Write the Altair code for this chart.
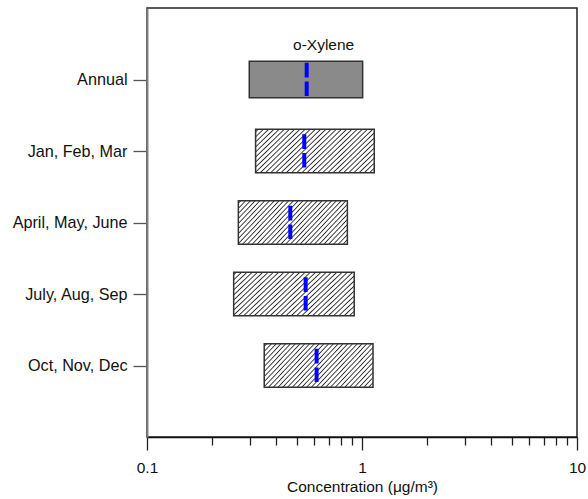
import json
import altair as alt
import pandas as pd

# ---- data ----
categories = ["Annual", "Jan, Feb, Mar", "April, May, June", "July, Aug, Sep", "Oct, Nov, Dec"]
low = [0.299, 0.320, 0.266, 0.253, 0.351]
high = [1.007, 1.14, 0.855, 0.920, 1.125]
median = [0.553, 0.539, 0.464, 0.547, 0.615]
x_major = [0.1, 1, 10]
x_minor = [0.2, 0.3, 0.4, 0.5, 0.6, 0.7, 0.8, 0.9, 2, 3, 4, 5, 6, 7, 8, 9]
compound = "o-Xylene"
x_title = "Concentration (\u03bcg/m\u00b3)"

df = pd.DataFrame({
    "cat": categories,
    "idx": list(range(len(categories))),
    "lo": low,
    "hi": high,
    "med": median,
})

FONT = "Liberation Sans"
FS = 15.5

# ---- hatch fill as a striped linear gradient ----
n_stripes = 35
P = 1.0 / n_stripes
stops = []
for i in range(n_stripes):
    b = i * P
    stops += [
        {"offset": round(b, 5), "color": "#ffffff"},
        {"offset": round(b + 0.25 * P, 5), "color": "#ffffff"},
        {"offset": round(b + 0.5 * P, 5), "color": "#2a2a2a"},
        {"offset": round(b + 0.75 * P, 5), "color": "#ffffff"},
    ]
hatch = {"gradient": "linear", "x1": 0, "y1": 0, "x2": 1.344, "y2": 0.507, "stops": stops}

decade_test = " || ".join(f"datum.value == {v}" for v in x_major)

x_axis = alt.Axis(
    values=sorted(x_major + x_minor),
    format="~g",
    labelExpr=f"({decade_test}) ? datum.label : ''",
    tickSize={"condition": {"test": decade_test, "value": 13}, "value": 8},
    tickColor="#222222",
    tickWidth=1.3,
    domainColor="#111111",
    domainWidth=1.5,
    labelFont=FONT,
    labelFontSize=FS,
    labelColor="#111111",
    labelPadding=10,
    labelFlush=False,
    labelOverlap=False,
    title=x_title,
    titleFont=FONT,
    titleFontSize=FS,
    titleFontWeight="normal",
    titleColor="#111111",
    titlePadding=4,
    grid=False,
)

y_axis = alt.Axis(
    values=list(range(len(categories))),
    labelExpr=f"{json.dumps(categories)}[datum.value]",
    tickSize=14,
    tickColor="#555555",
    tickWidth=1.3,
    domainColor="#808080",
    domainWidth=2,
    labelFont=FONT,
    labelFontSize=16.2,
    labelColor="#111111",
    labelPadding=6,
    title="",
    grid=False,
)

x_scale = alt.Scale(type="log", domain=[0.1, 10])
y_scale = alt.Scale(domain=[-1, len(categories)], reverse=True, nice=False, zero=False)

base = alt.Chart(df)

hatched = base.transform_filter("datum.idx > 0").transform_calculate(
    y0="datum.idx - 0.303", y1="datum.idx + 0.303"
).mark_rect(fill=hatch, stroke="#333333", strokeWidth=1.5).encode(
    x=alt.X("lo:Q", scale=x_scale, axis=x_axis),
    x2="hi:Q",
    y=alt.Y("y0:Q", scale=y_scale, axis=y_axis),
    y2="y1:Q",
)

annual = base.transform_filter("datum.idx == 0").transform_calculate(
    y0="datum.idx - 0.256", y1="datum.idx + 0.256"
).mark_rect(fill="#8a8a8a", stroke="#333333", strokeWidth=1.5).encode(
    x=alt.X("lo:Q", scale=x_scale, axis=x_axis),
    x2="hi:Q",
    y=alt.Y("y0:Q", scale=y_scale, axis=y_axis),
    y2="y1:Q",
)

medians = base.transform_calculate(
    r0="datum.idx - 0.233", r1="datum.idx + 0.233"
).mark_rule(color="#0000ff", strokeWidth=4, strokeDash=[14.6, 4], strokeCap="butt").encode(
    x=alt.X("med:Q", scale=x_scale, axis=x_axis),
    y=alt.Y("r0:Q", scale=y_scale, axis=y_axis),
    y2="r1:Q",
)

label = alt.Chart(pd.DataFrame({"t": [compound]})).mark_text(
    font=FONT, fontSize=FS, color="#111111", baseline="middle", align="center"
).encode(
    text="t:N",
    x=alt.datum(0.663, type="quantitative", scale=x_scale, axis=x_axis),
    y=alt.datum(-0.48, type="quantitative", scale=y_scale, axis=y_axis),
)

chart = alt.layer(annual, hatched, medians, label).properties(
    width=430,
    height=429,
    autosize=alt.AutoSizeParams(type="none"),
    padding={"left": 147, "top": 8, "right": 11, "bottom": 62},
    background="#ffffff",
).configure_view(
    stroke="#222222", strokeWidth=1.5
)

chart.save("out.html", embed_options={"renderer": "svg", "actions": False})
